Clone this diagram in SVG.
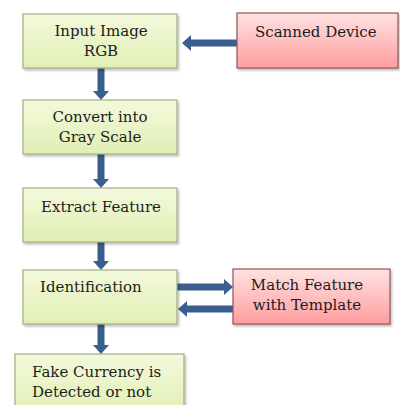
<svg xmlns="http://www.w3.org/2000/svg" width="400" height="405" viewBox="0 0 400 405">
<defs>
<linearGradient id="gGreen" x1="0" y1="0" x2="0" y2="1">
<stop offset="0" stop-color="#f3f9dc"/>
<stop offset="1" stop-color="#e1efb4"/>
</linearGradient>
<linearGradient id="gRed" x1="0" y1="0" x2="0" y2="1">
<stop offset="0" stop-color="#ffe2e2"/>
<stop offset="1" stop-color="#ff9d9f"/>
</linearGradient>
<filter id="sh" x="-10%" y="-10%" width="130%" height="130%">
<feDropShadow dx="1.5" dy="2" stdDeviation="1.2" flood-color="#000" flood-opacity="0.25"/>
</filter>
<marker id="ah" markerUnits="userSpaceOnUse" markerWidth="10" markerHeight="16" refX="0" refY="8" orient="auto">
<path d="M0,0 L9,8 L0,16 z" fill="#3a5e8e"/>
</marker>
</defs>
<style>
.g{fill:url(#gGreen);stroke:#9eae80;stroke-width:1.2;filter:url(#sh)}
.r{fill:url(#gRed);stroke:#8e5656;stroke-width:1.2;filter:url(#sh)}
text{font-family:'DejaVu Serif','Liberation Serif',serif;font-size:15px;fill:#1c1c1c}
.c{text-anchor:middle}
.a{stroke:#3a5e8e;stroke-width:7;fill:none;marker-end:url(#ah)}
</style>
<g id="connectors">
<line class="a" x1="101" y1="68" x2="101" y2="91"/>
<line class="a" x1="101" y1="154" x2="101" y2="179"/>
<line class="a" x1="101" y1="242" x2="101" y2="261"/>
<line class="a" x1="101" y1="324" x2="101" y2="345"/>
<line class="a" x1="237" y1="43" x2="191" y2="43"/>
<line class="a" x1="177" y1="287" x2="224" y2="287"/>
<line class="a" x1="233" y1="309" x2="187" y2="309"/>
</g>
<g id="input">
<rect class="g" x="23" y="14" width="154" height="54"/>
<text class="c" x="101" y="36">Input Image</text>
<text class="c" x="101" y="56">RGB</text>
</g>
<g id="scanned">
<rect class="r" x="237" y="13" width="161" height="55"/>
<text x="255" y="37">Scanned Device</text>
</g>
<g id="gray">
<rect class="g" x="23" y="100" width="154" height="54"/>
<text class="c" x="100" y="122">Convert into</text>
<text class="c" x="100" y="142">Gray Scale</text>
</g>
<g id="extract">
<rect class="g" x="23" y="188" width="154" height="54"/>
<text class="c" x="101" y="212">Extract Feature</text>
</g>
<g id="identification">
<rect class="g" x="23" y="270" width="154" height="54"/>
<text x="40" y="292">Identification</text>
</g>
<g id="match">
<rect class="r" x="233" y="269" width="157" height="55"/>
<text class="c" x="307" y="290">Match Feature</text>
<text class="c" x="307" y="310">with Template</text>
</g>
<g id="result">
<rect class="g" x="15" y="354" width="169" height="60"/>
<text x="32" y="377">Fake Currency is</text>
<text x="32" y="397">Detected or not</text>
</g>
</svg>
